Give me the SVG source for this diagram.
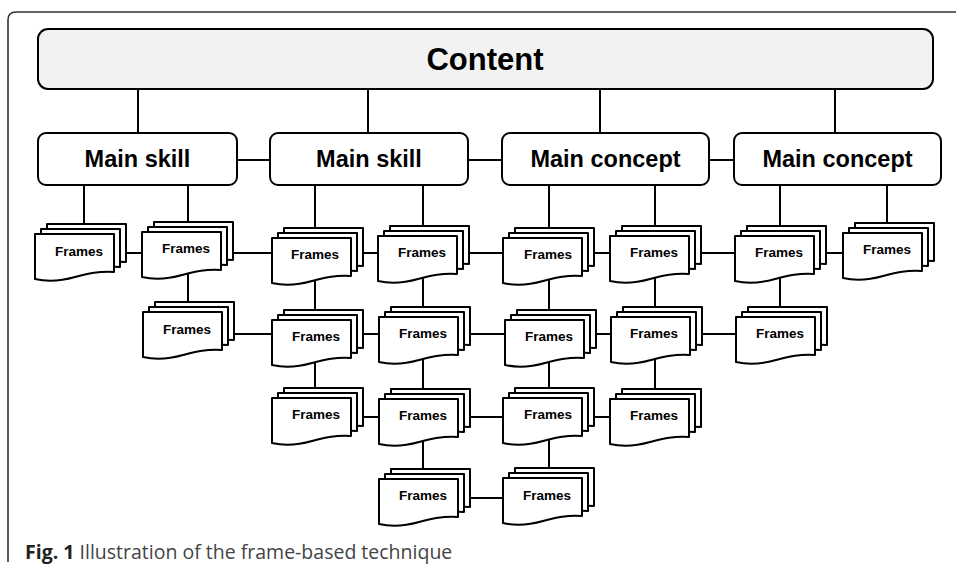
<svg xmlns="http://www.w3.org/2000/svg" xmlns:xlink="http://www.w3.org/1999/xlink" width="956" height="570" viewBox="0 0 956 570">
<style>
.ln{stroke:#000;stroke-width:2;fill:none}
.doc{fill:#fff;stroke:#000;stroke-width:2;stroke-linejoin:round}
.box{fill:#fff;stroke:#000;stroke-width:2}
.ft{font-family:"Liberation Sans",Arial,sans-serif;font-weight:bold;font-size:13.5px;text-anchor:middle;fill:#000}
.mt{font-family:"Liberation Sans",Arial,sans-serif;font-weight:bold;font-size:23.5px;text-anchor:middle;fill:#000}
</style>
<defs>
<path id="d" d="M0,0 H79 V38 C62,37 52,40 40,43 C26,47 13,48 0,45 Z"/>
<g id="stack">
<use xlink:href="#d" href="#d" class="doc" x="12" y="-10"/>
<use xlink:href="#d" href="#d" class="doc" x="6" y="-5"/>
<use xlink:href="#d" href="#d" class="doc"/>
</g>
</defs>
<rect width="956" height="570" fill="#fff"/>
<path d="M8,562 V20 Q8,12 16,12 H956" fill="none" stroke="#333" stroke-width="1.6"/>
<g id="connectors" class="ln">
<path d="M138,89 V133 M368,89 V133 M600,89 V133 M835,89 V133"/>
<path d="M237,160 H270 M468,160 H502 M709,160 H734"/>
<path d="M84,185 V240 M188,185 V240 M315,185 V240 M423,185 V240 M549,185 V240 M655,185 V240 M780,185 V240 M887,185 V240"/>
<path d="M188,250 V330 M315,250 V420 M423,250 V500 M549,250 V500 M655,250 V420 M780,250 V330"/>
<path d="M100,253 H880"/>
<path d="M200,334 H760"/>
<path d="M330,417 H640"/>
<path d="M440,498 H530"/>
</g>
<g id="content"><rect x="38" y="29" width="895" height="60" rx="10" fill="#f2f2f2" stroke="#000" stroke-width="2"/><text x="485" y="70" font-family="Liberation Sans,Arial,sans-serif" font-weight="bold" font-size="31" text-anchor="middle">Content</text></g>
<g id="main1"><rect class="box" x="38" y="133" width="199" height="52" rx="8"/><text class="mt" x="137.5" y="167">Main skill</text></g>
<g id="main2"><rect class="box" x="270" y="133" width="198" height="52" rx="8"/><text class="mt" x="369" y="167">Main skill</text></g>
<g id="main3"><rect class="box" x="502" y="133" width="207" height="52" rx="8"/><text class="mt" x="605.5" y="167">Main concept</text></g>
<g id="main4"><rect class="box" x="734" y="133" width="207" height="52" rx="8"/><text class="mt" x="837.5" y="167">Main concept</text></g>
<g id="n1"><use xlink:href="#stack" href="#stack" x="35" y="234"/><text class="ft" x="79" y="256">Frames</text></g>
<g id="n2"><use xlink:href="#stack" href="#stack" x="142" y="232"/><text class="ft" x="186" y="253">Frames</text></g>
<g id="n3"><use xlink:href="#stack" href="#stack" x="143" y="312"/><text class="ft" x="187" y="334">Frames</text></g>
<g id="n4"><use xlink:href="#stack" href="#stack" x="272" y="238"/><text class="ft" x="315" y="259">Frames</text></g>
<g id="n5"><use xlink:href="#stack" href="#stack" x="378" y="236"/><text class="ft" x="422" y="257">Frames</text></g>
<g id="n6"><use xlink:href="#stack" href="#stack" x="272" y="320"/><text class="ft" x="316" y="341">Frames</text></g>
<g id="n7"><use xlink:href="#stack" href="#stack" x="379" y="317"/><text class="ft" x="423" y="338">Frames</text></g>
<g id="n8"><use xlink:href="#stack" href="#stack" x="272" y="398"/><text class="ft" x="316" y="419">Frames</text></g>
<g id="n9"><use xlink:href="#stack" href="#stack" x="379" y="399"/><text class="ft" x="423" y="420">Frames</text></g>
<g id="n10"><use xlink:href="#stack" href="#stack" x="379" y="479"/><text class="ft" x="423" y="500">Frames</text></g>
<g id="n11"><use xlink:href="#stack" href="#stack" x="503" y="238"/><text class="ft" x="548" y="259">Frames</text></g>
<g id="n12"><use xlink:href="#stack" href="#stack" x="610" y="236"/><text class="ft" x="654" y="257">Frames</text></g>
<g id="n13"><use xlink:href="#stack" href="#stack" x="505" y="320"/><text class="ft" x="549" y="341">Frames</text></g>
<g id="n14"><use xlink:href="#stack" href="#stack" x="611" y="317"/><text class="ft" x="654" y="338">Frames</text></g>
<g id="n15"><use xlink:href="#stack" href="#stack" x="503" y="398"/><text class="ft" x="548" y="419">Frames</text></g>
<g id="n16"><use xlink:href="#stack" href="#stack" x="610" y="399"/><text class="ft" x="654" y="420">Frames</text></g>
<g id="n17"><use xlink:href="#stack" href="#stack" x="503" y="478"/><text class="ft" x="547" y="500">Frames</text></g>
<g id="n18"><use xlink:href="#stack" href="#stack" x="735" y="236"/><text class="ft" x="779" y="257">Frames</text></g>
<g id="n19"><use xlink:href="#stack" href="#stack" x="843" y="233"/><text class="ft" x="887" y="254">Frames</text></g>
<g id="n20"><use xlink:href="#stack" href="#stack" x="736" y="317"/><text class="ft" x="780" y="338">Frames</text></g>
<text x="25" y="559" font-family="Open Sans,Liberation Sans,sans-serif" font-size="19.5" fill="#444"><tspan font-weight="bold" fill="#222">Fig. 1</tspan> Illustration of the frame-based technique</text>
</svg>
